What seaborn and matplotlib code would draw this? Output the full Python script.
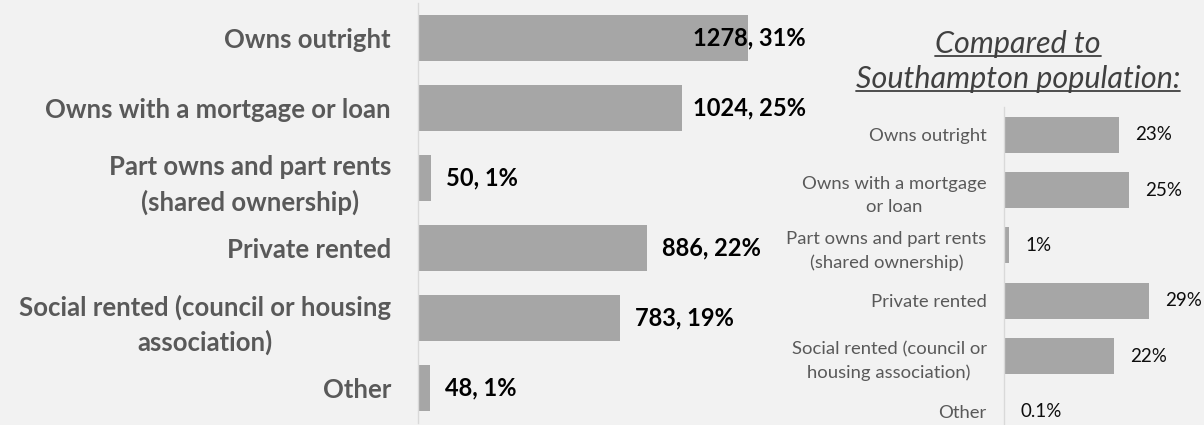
import matplotlib
matplotlib.use("Agg")
import matplotlib.pyplot as plt
from matplotlib.lines import Line2D
import seaborn as sns
import pandas as pd
import numpy as np

# --- data ---
tenure = ["Owns outright", "Owns with a mortgage or loan", "Part owns", "Private rented",
          "Social rented", "Other"]
main_labels = ["Owns outright", "Owns with a mortgage or loan",
               "Part owns and part rents\n(shared ownership)", "Private rented",
               "Social rented (council or housing\nassociation)", "Other"]
inset_labels = ["Owns outright", "Owns with a mortgage\nor loan",
                "Part owns and part rents\n(shared ownership)", "Private rented",
                "Social rented (council or\nhousing association)", "Other"]
counts = [1278, 1024, 50, 886, 783, 48]
shares = [31, 25, 1, 22, 19, 1]
soton_pct = [23, 25, 1, 29, 22, 0.1]
title_lines = ["Compared to", "Southampton population:"]

BG = "#F2F2F2"
BAR = "#A6A6A6"
AXIS = "#D9D9D9"
LABEL = "#595959"

sns.set_theme(style="white")
plt.rcParams["font.family"] = ["Lato", "DejaVu Sans"]

W, H = 1204, 425
fig = plt.figure(figsize=(W / 100, H / 100), dpi=100, facecolor=BG)

df = pd.DataFrame({"tenure": tenure, "count": counts, "share": shares, "soton": soton_pct})


def style_axis(ax, labels, pad, size, weight, spacing):
    ax.set_facecolor(BG)
    for side in ["top", "right", "bottom"]:
        ax.spines[side].set_visible(False)
    ax.spines["left"].set_color(AXIS)
    ax.spines["left"].set_linewidth(1)
    ax.set_xticks([])
    ax.set_xlabel("")
    ax.set_ylabel("")
    ax.set_ylim(len(labels) - 0.5, -0.5)
    ax.set_yticks(range(len(labels)))
    ax.set_yticklabels(labels, fontsize=size, fontweight=weight, color=LABEL,
                       multialignment="center", linespacing=spacing)
    ax.tick_params(axis="y", which="major", length=0, pad=pad)
    ax.set_yticks(np.arange(-0.5, len(labels), 1), minor=True)
    ax.tick_params(axis="y", which="minor", length=8, width=1, color=AXIS)


# --- main chart ---
ax = fig.add_axes([418 / W, 1 - 423 / H, 388 / W, 420 / H])
sns.barplot(data=df, x="count", y="tenure", color=BAR, width=0.66, saturation=1,
            linewidth=0, ax=ax)
ax.set_xlim(0, 1503)
style_axis(ax, main_labels, 19.5, 18.5, "bold", 1.47)

px = 1503 / 388
texts = []
for i, (c, s) in enumerate(zip(counts, shares)):
    t = ax.text(c + 15 * px, i, f"{c}, {s}%", va="center", ha="left",
                fontsize=17, fontweight="bold", color="black")
    texts.append(t)

# --- inset chart ---
ax2 = fig.add_axes([1004 / W, 1 - 439 / H, 200 / W, 332 / H])
sns.barplot(data=df, x="soton", y="tenure", color=BAR, width=0.65, saturation=1,
            linewidth=0, ax=ax2)
ax2.set_xlim(0, 40)
style_axis(ax2, inset_labels, 12.5, 13.3, "normal", 1.55)
for i, v in enumerate(soton_pct):
    ax2.text(v + 3.2, i, f"{v:g}%", va="center", ha="left", fontsize=13.5, color="#0D0D0D")

# title of the inset
tts = []
for j, line in enumerate(title_lines):
    tts.append(fig.text(1018 / W, 1 - (53 + 35 * j) / H, line, ha="center", va="baseline",
                        fontsize=22, style="italic", color="#404040"))

fig.canvas.draw()
r = fig.canvas.get_renderer()
right_edge = ax.get_window_extent(r).x1
for t in texts:
    if t.get_window_extent(r).x1 > right_edge:
        t.set_x(1503)
        t.set_ha("right")
for t, base in zip(tts, [53, 88]):
    bb = t.get_window_extent(r)
    y = 1 - (base + 2.5) / H
    fig.add_artist(Line2D([bb.x0 / W, bb.x1 / W], [y, y], transform=fig.transFigure,
                          color="#404040", lw=1.3))

fig.savefig("out.png", dpi=100, facecolor=BG)
